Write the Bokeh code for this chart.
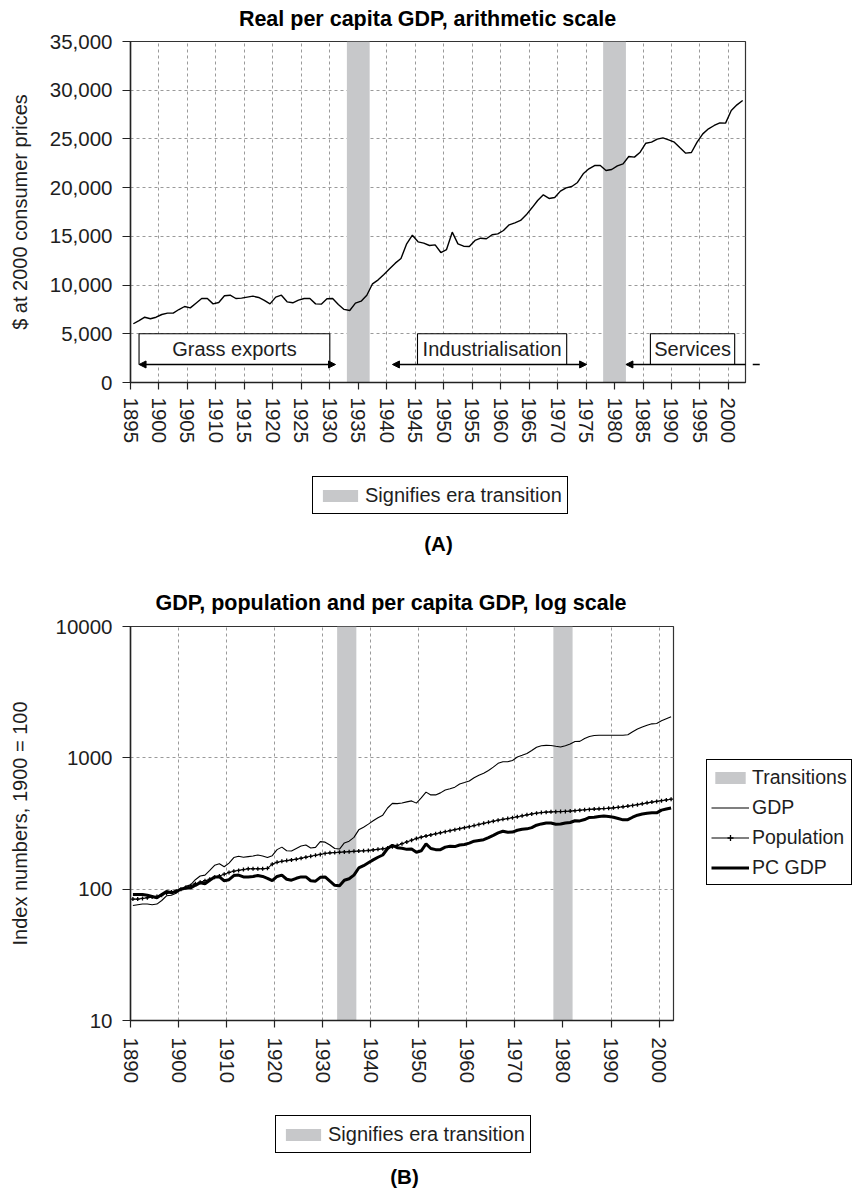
from bokeh.plotting import figure
from bokeh.models import (Range1d, FixedTicker, NumeralTickFormatter, PrintfTickFormatter,
                          Label, Legend, LegendItem, BoxAnnotation, Arrow, NormalHead,
                          ColumnDataSource)
from bokeh.layouts import column, row
from bokeh.embed import file_html
from bokeh.resources import INLINE

# ---------------- data ----------------
# (A) real per capita GDP, $ at 2000 consumer prices, 1895-2002
years_a = list(range(1895, 2003))
pc_gdp_usd = [
    6030, 6360, 6700, 6540, 6700, 6980, 7120, 7120, 7490, 7800,        # 1895-1904
    7660, 8140, 8620, 8620, 8070, 8210, 8900, 8960, 8620, 8660,        # 1905-1914
    8760, 8860, 8730, 8420, 8070, 8760, 8960, 8280, 8180, 8450,        # 1915-1924
    8620, 8620, 8070, 8040, 8590, 8620, 8010, 7500, 7390, 8140,        # 1925-1934
    8350, 8960, 10130, 10540, 11090, 11670, 12250, 12730, 14230, 15120,  # 1935-1944
    14440, 14300, 14060, 14130, 13340, 13650, 15430, 14230, 13990, 13960,  # 1945-1954
    14580, 14810, 14750, 15160, 15260, 15600, 16180, 16390, 16630, 17210,  # 1955-1964
    17930, 18680, 19260, 18890, 18990, 19640, 19980, 20120, 20530, 21420,  # 1965-1974
    21930, 22270, 22270, 21760, 21860, 22240, 22440, 23200, 23130, 23640,  # 1975-1984
    24560, 24670, 24980, 25110, 24910, 24670, 24090, 23540, 23610, 24670,  # 1985-1994
    25520, 26040, 26380, 26650, 26620, 27920, 28500, 28950,              # 1995-2002
]

# (B) index numbers, 1900 = 100, 1890-2002
years_b = list(range(1890, 2003))
gdp_idx = [
    75, 76, 77, 77, 76, 77, 82, 89, 90, 93,
    100, 105, 108, 118, 126, 128, 139, 152, 156, 148,
    158, 174, 178, 175, 177, 179, 182, 179, 174, 180,
    200, 209, 196, 195, 204, 213, 217, 206, 208, 230,
    228, 217, 204, 202, 225, 232, 248, 283, 296, 313,
    332, 350, 366, 415, 450, 448, 453, 462, 470, 452,
    495, 548, 522, 522, 541, 569, 581, 598, 632, 648,
    666, 706, 737, 762, 801, 849, 908, 934, 934, 955,
    1014, 1045, 1078, 1137, 1205, 1236, 1244, 1241, 1224, 1208,
    1237, 1274, 1333, 1335, 1405, 1455, 1480, 1487, 1487, 1487,
    1487, 1487, 1487, 1500, 1580, 1656, 1715, 1773, 1815, 1828,
    1913, 1981, 2052,
]
pop_idx = [
    84, 84, 85, 86, 87, 88, 90, 93, 95, 97,
    100, 103, 106, 110, 113, 116, 119, 123, 126, 130,
    134, 137, 139, 141, 143, 143, 143, 143, 144, 155,
    160, 163, 165, 167, 169, 172, 175, 178, 181, 184,
    187, 189, 190, 191, 192, 193, 194, 195, 196, 197,
    199, 201, 203, 206, 210, 215, 222, 229, 236, 243,
    249, 254, 259, 264, 269, 274, 279, 284, 289, 294,
    299, 305, 311, 317, 323, 329, 335, 340, 345, 350,
    356, 362, 368, 374, 379, 383, 386, 388, 389, 390,
    391, 393, 396, 399, 402, 405, 407, 409, 411, 413,
    416, 420, 424, 429, 434, 440, 447, 454, 460, 466,
    472, 478, 484,
]
pcgdp_idx = [
    91, 91, 91, 90, 88, 86, 91, 96, 94, 96,
    100, 102, 102, 107, 112, 110, 117, 124, 124, 116,
    118, 127, 128, 124, 124, 125, 127, 125, 121, 116,
    125, 128, 119, 117, 121, 124, 124, 116, 115, 123,
    124, 115, 107, 106, 117, 120, 128, 145, 151, 159,
    167, 175, 182, 204, 216, 207, 205, 201, 202, 191,
    196, 221, 204, 200, 200, 209, 212, 211, 217, 219,
    224, 232, 235, 238, 247, 257, 268, 276, 271, 272,
    281, 286, 288, 294, 307, 314, 319, 319, 312, 313,
    319, 322, 332, 331, 339, 352, 353, 358, 360, 357,
    353, 345, 337, 338, 353, 366, 373, 378, 382, 381,
    400, 408, 415,
]

# era transitions (shaded) and eras (arrows)
trans_start = [1933, 1978]
trans_end = [1937, 1982]
era_names = ["Grass exports", "Industrialisation", "Services"]
era_start = [1896.5, 1941.0, 1982.0]
era_end = [1931.0, 1975.1, 2005.5]

x_ticks_a = list(range(1895, 2001, 5))
y_ticks_a = list(range(0, 35001, 5000))
x_ticks_b = list(range(1890, 2001, 10))
y_ticks_b = [10, 100, 1000, 10000]

# ---------------- layout / style constants ----------------
FONT = "Liberation Sans"
TXT = "#1e1e1e"
BAND = "#c7c8ca"
GRID = "#9a9a9a"
W = 855
ERA_BOX = [(1896.5, 1930.0), (1945.4, 1971.6), (1986.3, 2001.1)]   # label box extents
ERA_BOX_Y = (1850, 5000)


def style(p, tick_font="20.5px"):
    p.frame_align = False
    p.background_fill_color = "white"
    p.border_fill_color = "white"
    p.outline_line_color = "#333333"
    p.outline_line_width = 1.2
    for ax in (p.xaxis[0], p.yaxis[0]):
        ax.axis_line_color = "#222222"
        ax.axis_line_width = 1.5
        ax.major_tick_line_color = "#222222"
        ax.major_tick_line_width = 1.2
        ax.major_tick_in = 0
        ax.minor_tick_in = 0
        ax.minor_tick_out = 0
        ax.major_label_text_font = FONT
        ax.major_label_text_font_size = tick_font
        ax.major_label_text_color = TXT
        ax.axis_label_text_font = FONT
        ax.axis_label_text_font_size = "20px"
        ax.axis_label_text_font_style = "normal"
        ax.axis_label_text_color = TXT
    for g in (p.xgrid[0], p.ygrid[0]):
        g.grid_line_color = GRID
        g.grid_line_dash = "3 3"
        g.grid_line_width = 1


def strip(height, width=W):
    """A blank band of the page whose data units are pixels (titles, captions, legends)."""
    s = figure(width=width, height=height, x_range=Range1d(0, width),
               y_range=Range1d(0, height), min_border=0, toolbar_location=None,
               output_backend="svg", title=None, tools="",
               x_axis_location=None, y_axis_location=None)
    s.frame_align = False
    s.outline_line_color = None
    s.grid.visible = False
    s.background_fill_color = "white"
    s.border_fill_color = "white"
    return s


def bold_text(s, x, y, text, size="21.5px"):
    s.add_layout(Label(x=x, y=y, text=text, text_font=FONT, text_font_size=size,
                       text_font_style="bold", text_color="black",
                       text_align="center", text_baseline="middle"))


def legend_box(items, x, y, **kw):
    opts = dict(location=(x, y), orientation="vertical",
                border_line_color="black", border_line_width=1.2, border_line_alpha=1,
                background_fill_color="white", background_fill_alpha=1,
                inactive_fill_alpha=0, margin=0,
                label_text_font=FONT, label_text_color=TXT)
    opts.update(kw)
    return Legend(items=items, **opts)


def band_proxy(s):
    # legend key for the shaded transitions (hidden renderer of the same data)
    return s.quad(left=trans_start, right=trans_end, bottom=0, top=1,
                  fill_color=BAND, line_color=None, visible=False)


def era_legend(s, x, y):
    s.add_layout(legend_box([LegendItem(label="Signifies era transition",
                                        renderers=[band_proxy(s)])], x, y,
                            padding=5, spacing=0, label_standoff=3,
                            glyph_width=44, glyph_height=15, label_height=26,
                            label_text_font_size="20px"))


# ---------------- chart A ----------------
tA = strip(30)
bold_text(tA, 427, 12, "Real per capita GDP, arithmetic scale")

p1 = figure(width=W, height=430, x_range=Range1d(1895, 2003), y_range=Range1d(0, 35000),
            min_border_left=130, min_border_right=110, min_border_top=11,
            min_border_bottom=78, toolbar_location=None, output_backend="svg",
            title=None, tools="")
style(p1)
p1.xaxis.ticker = FixedTicker(ticks=x_ticks_a)
p1.xgrid.ticker = FixedTicker(ticks=x_ticks_a)
p1.yaxis.ticker = FixedTicker(ticks=y_ticks_a)
p1.ygrid.ticker = FixedTicker(ticks=y_ticks_a)
p1.yaxis.formatter = NumeralTickFormatter(format="0,0")
p1.xaxis.major_label_orientation = "vertical"
p1.xaxis.major_tick_out = 7
p1.xaxis.major_label_standoff = 8
p1.yaxis.major_tick_out = 8
p1.yaxis.major_label_standoff = 10
p1.yaxis.axis_label = "$ at 2000 consumer prices"
p1.yaxis.axis_label_standoff = 16

src_a = ColumnDataSource(dict(x=[y + 0.5 for y in years_a], v=pc_gdp_usd))
p1.quad(left=trans_start, right=trans_end, bottom=p1.y_range.start,
        top=p1.y_range.end, fill_color=BAND, line_color=None)
p1.line("x", "v", source=src_a, line_color="black", line_width=1.4)

for name, s, e, (bl, br) in zip(era_names, era_start, era_end, ERA_BOX):
    p1.add_layout(BoxAnnotation(left=bl, right=br, bottom=ERA_BOX_Y[0], top=ERA_BOX_Y[1],
                                fill_color="white", fill_alpha=1, line_color="black",
                                line_width=1.1, line_alpha=1))
    p1.add_layout(Arrow(start=NormalHead(size=7, fill_color="black", line_color="black"),
                        end=NormalHead(size=7, fill_color="black", line_color="black"),
                        x_start=s, y_start=ERA_BOX_Y[0], x_end=e, y_end=ERA_BOX_Y[0],
                        line_color="black", line_width=1.3))
    p1.add_layout(Label(x=(bl + br) / 2, y=sum(ERA_BOX_Y) / 2, text=name,
                        text_font=FONT, text_font_size="20px", text_color=TXT,
                        text_align="center", text_baseline="middle"))

cA = strip(120)
era_legend(cA, 312, 66)
bold_text(cA, 438, 37.5, "(A)", size="20.5px")

# ---------------- chart B ----------------
tB = strip(34)
bold_text(tB, 390.5, 12, "GDP, population and per capita GDP, log scale")

p2 = figure(width=675, height=486, x_range=Range1d(1890, 2003), y_range=Range1d(10, 10000),
            y_axis_type="log", min_border_left=130, min_border_right=2,
            min_border_top=12, min_border_bottom=80, toolbar_location=None,
            output_backend="svg", title=None, tools="")
style(p2)
p2.xaxis.ticker = FixedTicker(ticks=x_ticks_b)
p2.xgrid.ticker = FixedTicker(ticks=x_ticks_b)
p2.yaxis.ticker = FixedTicker(ticks=y_ticks_b)
p2.ygrid.ticker = FixedTicker(ticks=y_ticks_b)
p2.yaxis.formatter = PrintfTickFormatter(format="%d")
p2.xaxis.major_label_orientation = "vertical"
p2.xaxis.major_tick_out = 7
p2.xaxis.major_label_standoff = 10
p2.yaxis.major_tick_out = 8
p2.yaxis.major_label_standoff = 10
p2.yaxis.axis_label = "Index numbers, 1900 = 100"
p2.yaxis.axis_label_standoff = 21

src_b = ColumnDataSource(dict(x=[y + 0.5 for y in years_b], gdp=gdp_idx,
                              pop=pop_idx, pc=pcgdp_idx))
p2.quad(left=trans_start, right=trans_end, bottom=p2.y_range.start,
        top=p2.y_range.end, fill_color=BAND, line_color=None)
p2.line("x", "gdp", source=src_b, line_color="black", line_width=1.1)
p2.line("x", "pop", source=src_b, line_color="black", line_width=1.1)
p2.scatter("x", "pop", source=src_b, marker="cross", size=4,
           line_color="black", line_width=1.3)
p2.line("x", "pc", source=src_b, line_color="black", line_width=3)

# legend panel to the right of chart B (hidden copies of the series serve as keys)
lB = strip(486, width=W - 675)
k_band = band_proxy(lB)
k_gdp = lB.line("x", "gdp", source=src_b, line_color="black", line_width=1.1, visible=False)
k_pop = lB.line("x", "pop", source=src_b, line_color="black", line_width=1.1, visible=False)
k_popm = lB.scatter("x", "pop", source=src_b, marker="cross", size=4,
                    line_color="black", line_width=1.3, visible=False)
k_pc = lB.line("x", "pc", source=src_b, line_color="black", line_width=3, visible=False)
lB.add_layout(legend_box([LegendItem(label="Transitions", renderers=[k_band]),
                          LegendItem(label="GDP", renderers=[k_gdp]),
                          LegendItem(label="Population", renderers=[k_pop, k_popm]),
                          LegendItem(label="PC GDP", renderers=[k_pc])],
                         31, 215, padding=4, spacing=4, label_standoff=3,
                         glyph_width=38, glyph_height=15, label_height=26,
                         label_text_font_size="19.5px"))

cB = strip(89)
era_legend(cB, 275, 36)
bold_text(cB, 404, 13.5, "(B)", size="20.5px")

layout = column(tA, p1, cA, tB, row(p2, lB, spacing=0), cB, spacing=0)
open("out.html", "w").write(file_html(layout, INLINE))
